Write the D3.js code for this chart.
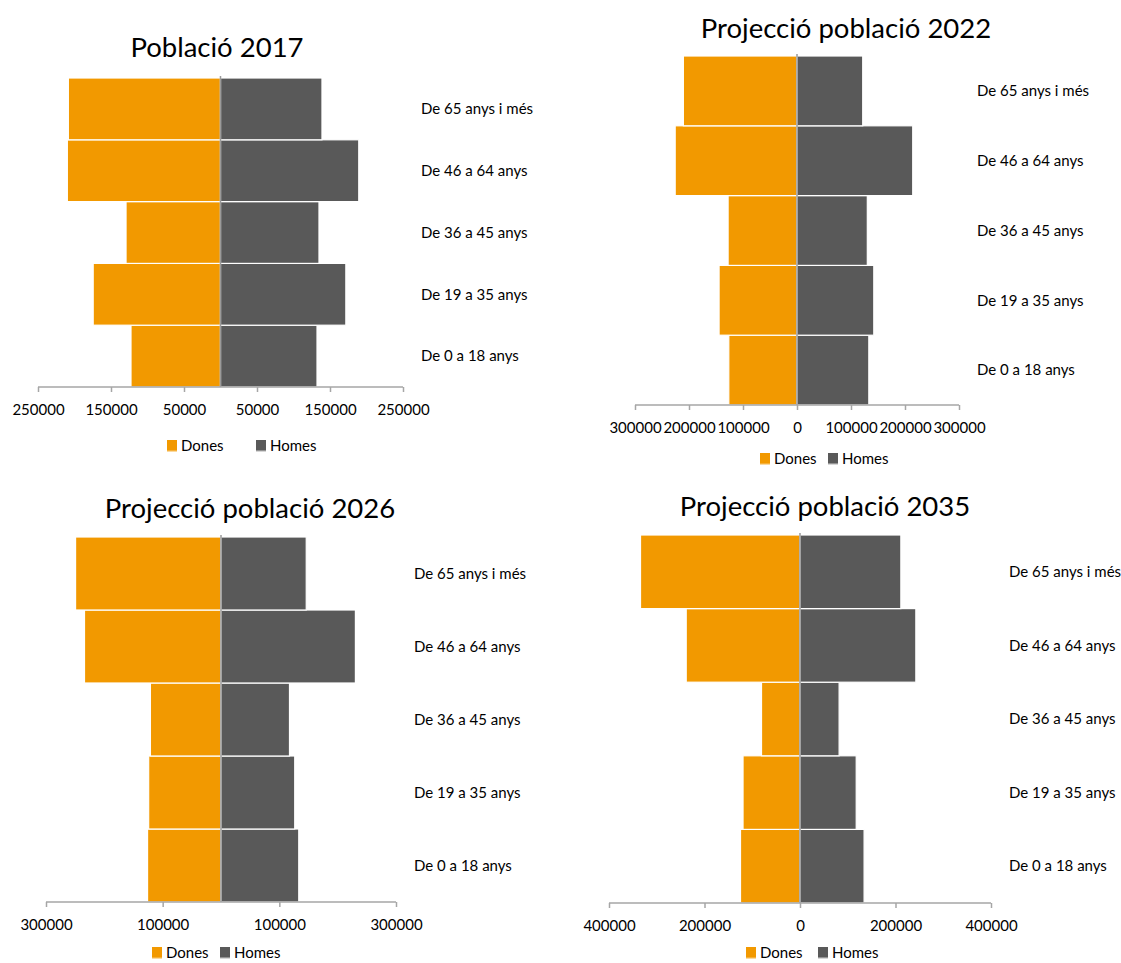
<!DOCTYPE html>
<html>
<head>
<meta charset="utf-8">
<script src="https://cdn.jsdelivr.net/npm/d3@7"></script>
<style>
  html, body { margin: 0; padding: 0; background: #fff; }
  svg { display: block; font-family: Lato, "Open Sans", sans-serif; }
</style>
</head>
<body>
<svg id="chart" width="1121" height="963"></svg>
<script>
// ---- Data ----
const categories = ["De 0 a 18 anys", "De 19 a 35 anys", "De 36 a 45 anys", "De 46 a 64 anys", "De 65 anys i més"];
const seriesNames = ["Dones", "Homes"];
const titles = ["Població 2017", "Projecció població 2022", "Projecció població 2026", "Projecció població 2035"];

const dones2017 = [122600, 174400, 129400, 209800, 208400];
const homes2017 = [132200, 171700, 134900, 189400, 139000];
const dones2022 = [126300, 144300, 127600, 225600, 210400];
const homes2022 = [133000, 142200, 130200, 214300, 121700];
const dones2026 = [125900, 124000, 121000, 234000, 249300];
const homes2026 = [133300, 126400, 117400, 230400, 146100];
const dones2035 = [124600, 119300, 80600, 238300, 334000];
const homes2035 = [134200, 117700, 81900, 242600, 211200];

const ticks2017 = [-250000, -150000, -50000, 50000, 150000, 250000];
const ticks2022 = [-300000, -200000, -100000, 0, 100000, 200000, 300000];
const ticks2026 = [-300000, -100000, 100000, 300000];
const ticks2035 = [-400000, -200000, 0, 200000, 400000];

// ---- Layout (positions / styles only) ----
const colors = { Dones: "#F29900", Homes: "#595959" };
const panels = [
  { title: titles[0], dones: dones2017, homes: homes2017, ticks: ticks2017, max: 250000,
    x0: 38, x1: 403, yTop: 78, yAxis: 387, titleX: 217, titleY: 57, labelX: 421,
    legY: 446, legX: [167, 256] },
  { title: titles[1], dones: dones2022, homes: homes2022, ticks: ticks2022, max: 300000,
    x0: 635, x1: 959, yTop: 56, yAxis: 405, titleX: 846, titleY: 38, labelX: 977,
    legY: 459, legX: [760, 828] },
  { title: titles[2], dones: dones2026, homes: homes2026, ticks: ticks2026, max: 300000,
    x0: 46, x1: 396, yTop: 537, yAxis: 902, titleX: 250, titleY: 518, labelX: 414,
    legY: 953, legX: [152, 220] },
  { title: titles[3], dones: dones2035, homes: homes2035, ticks: ticks2035, max: 400000,
    x0: 609, x1: 991, yTop: 535, yAxis: 903, titleX: 825, titleY: 516, labelX: 1009,
    legY: 953, legX: [746, 818] }
];

const svg = d3.select("#chart");

panels.forEach(p => {
  const g = svg.append("g");
  const x = d3.scaleLinear().domain([-p.max, p.max]).range([p.x0, p.x1]);
  const y = d3.scaleBand().domain(categories.slice().reverse()).range([p.yTop, p.yAxis]).padding(0);

  // title
  g.append("text")
    .attr("x", p.titleX).attr("y", p.titleY)
    .attr("text-anchor", "middle")
    .attr("font-size", 27.5)
    .attr("font-weight", 400)
    .attr("fill", "#000")
    .text(p.title);

  const rows = categories.map((c, i) => ({ cat: c, dones: p.dones[i], homes: p.homes[i] }));

  // Dones (left)
  g.selectAll("rect.dones").data(rows).enter().append("rect")
    .attr("class", "dones")
    .attr("x", d => x(-d.dones))
    .attr("y", d => y(d.cat))
    .attr("width", d => x(0) - x(-d.dones))
    .attr("height", y.bandwidth())
    .attr("fill", colors.Dones)
    .attr("stroke", "#fff").attr("stroke-width", 1.2);

  // Homes (right)
  g.selectAll("rect.homes").data(rows).enter().append("rect")
    .attr("class", "homes")
    .attr("x", x(0))
    .attr("y", d => y(d.cat))
    .attr("width", d => x(d.homes) - x(0))
    .attr("height", y.bandwidth())
    .attr("fill", colors.Homes)
    .attr("stroke", "#fff").attr("stroke-width", 1.2);

  // category axis at zero
  g.append("line")
    .attr("x1", x(0)).attr("x2", x(0))
    .attr("y1", p.yTop - 2).attr("y2", p.yAxis)
    .attr("stroke", "#9a9a9a").attr("stroke-width", 1.5);

  // category labels
  g.selectAll("text.cat").data(categories).enter().append("text")
    .attr("class", "cat")
    .attr("x", p.labelX)
    .attr("y", d => y(d) + y.bandwidth() / 2)
    .attr("dy", "0.35em")
    .attr("font-size", 15)
    .attr("fill", "#000")
    .text(d => d);

  // value axis
  const axis = d3.axisBottom(x)
    .tickValues(p.ticks)
    .tickFormat(v => d3.format("d")(Math.abs(v)))
    .tickSize(5)
    .tickSizeOuter(0)
    .tickPadding(12);
  const ag = g.append("g")
    .attr("transform", `translate(0,${p.yAxis})`)
    .call(axis);
  ag.select(".domain").attr("stroke", "#a6a6a6").attr("stroke-width", 1.5)
    .attr("d", `M${p.x0},0H${p.x1}`);
  ag.selectAll(".tick line").attr("stroke", "#a6a6a6").attr("stroke-width", 1.5);
  ag.selectAll(".tick text").attr("font-size", 15).attr("fill", "#000")
    .attr("font-family", "Lato, 'Open Sans', sans-serif");

  // legend
  seriesNames.forEach((s, i) => {
    const lx = p.legX[i];
    g.append("rect")
      .attr("x", lx).attr("y", p.legY - 6)
      .attr("width", 10).attr("height", 11)
      .attr("fill", colors[s]);
    g.append("line")
      .attr("x1", lx).attr("x2", lx + 10)
      .attr("y1", p.legY + 5).attr("y2", p.legY + 5)
      .attr("stroke", s === "Dones" ? "#F7C060" : "#bbbbbb").attr("stroke-width", 1.2);
    g.append("text")
      .attr("x", lx + 14).attr("y", p.legY)
      .attr("dy", "0.35em")
      .attr("font-size", 15)
      .attr("fill", "#000")
      .text(s);
  });
});
</script>
</body>
</html>
